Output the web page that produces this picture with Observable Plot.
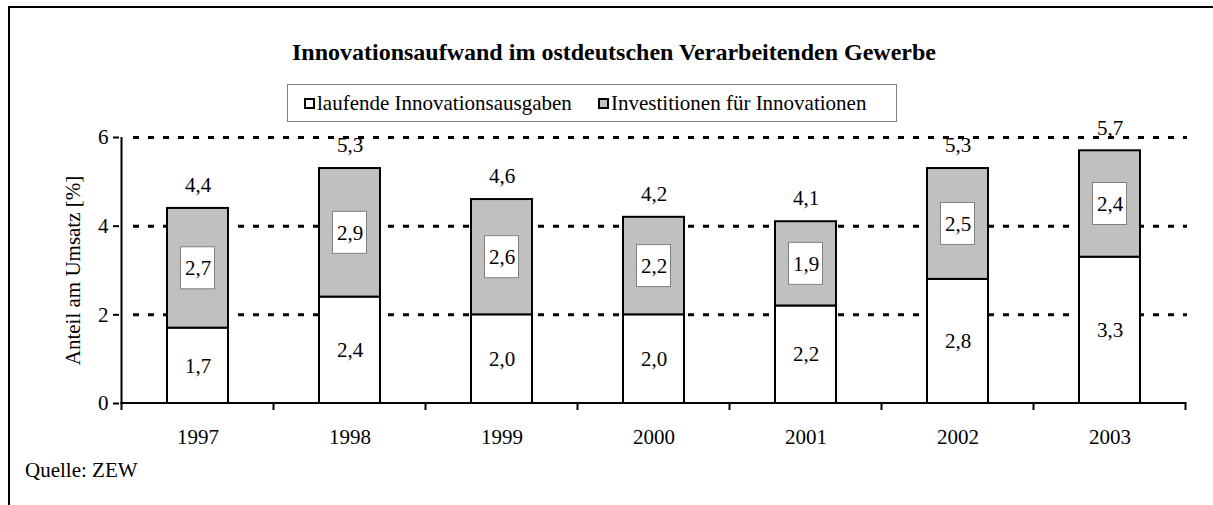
<!DOCTYPE html>
<html>
<head>
<meta charset="utf-8">
<script src="https://cdn.jsdelivr.net/npm/d3@7"></script>
<script src="https://cdn.jsdelivr.net/npm/@observablehq/plot@0.6"></script>
<style>
  html, body { margin: 0; padding: 0; background: #fff; }
  #wrap { position: relative; width: 1213px; height: 505px; overflow: hidden; background: #fff;
          font-family: "Liberation Serif", "Times New Roman", serif; color: #000; }
  #frame { position: absolute; left: 8px; top: 6px; width: 1300px; height: 600px;
           border-top: 2px solid #000; border-left: 2px solid #000; box-sizing: border-box; }
  #chart { position: absolute; left: 0; top: 0; }
  #title { position: absolute; left: 0; width: 1228px; top: 38px; text-align: center;
           font-family: "Liberation Serif", serif; font-weight: bold; font-size: 24px; line-height: 28px; }
  #legend { position: absolute; left: 287px; top: 84px; height: 38px; width: 610px; box-sizing: border-box;
            border: 1px solid #808080; font-family: "Liberation Serif", serif; font-size: 21px; }
  .item { position: absolute; top: 0; height: 36px; line-height: 36px; white-space: nowrap;
          font-family: "Liberation Serif", serif; font-size: 21px; }
  .sw { display: inline-block; width: 11px; height: 11px; border: 2px solid #000; box-sizing: border-box;
        vertical-align: middle; margin-right: 2px; position: relative; top: -2px; }
  #source { position: absolute; left: 25px; top: 458px; font-family: "Liberation Serif", serif; font-size: 21px; line-height: 24px; }
</style>
</head>
<body>
<div id="wrap">
  <div id="frame"></div>
  <div id="chart"></div>
  <div id="title"></div>
  <div id="legend"></div>
  <div id="source"></div>
</div>
<script>
const titleText = "Innovationsaufwand im ostdeutschen Verarbeitenden Gewerbe";
const yLabel = "Anteil am Umsatz [%]";
const sourceText = "Quelle: ZEW";
const years = ["1997", "1998", "1999", "2000", "2001", "2002", "2003"];
const laufende = [1.7, 2.4, 2.0, 2.0, 2.2, 2.8, 3.3];
const investitionen = [2.7, 2.9, 2.6, 2.2, 1.9, 2.5, 2.4];
const seriesNames = ["laufende Innovationsausgaben", "Investitionen für Innovationen"];
const seriesColors = ["#ffffff", "#c0c0c0"];
const yTicks = [0, 2, 4, 6];

const fmt = v => v.toFixed(1).replace(".", ",");

const rows = years.map((year, i) => ({
  year,
  low: laufende[i],
  inv: investitionen[i],
  total: laufende[i] + investitionen[i]
}));
const segments = rows.flatMap(r => [
  {year: r.year, series: seriesNames[0], y1: 0, y2: r.low},
  {year: r.year, series: seriesNames[1], y1: r.low, y2: r.total}
]);

function axesMark(index, scales, values, dimensions) {
  const ns = "http://www.w3.org/2000/svg";
  const g = document.createElementNS(ns, "g");
  const x = scales.x, y = scales.y;
  const step = x.step();
  const pad = (step - x.bandwidth()) / 2;
  const x0 = x(years[0]) - pad;
  const yb = y(0), yt = y(yTicks[yTicks.length - 1]);
  const line = (x1, y1, x2, y2) => {
    const l = document.createElementNS(ns, "line");
    l.setAttribute("x1", x1); l.setAttribute("y1", y1);
    l.setAttribute("x2", x2); l.setAttribute("y2", y2);
    l.setAttribute("stroke", "#000"); l.setAttribute("stroke-width", 2);
    g.appendChild(l);
  };
  line(x0, yt, x0, yb + 1);
  line(x0 - 1, yb, x0 + step * years.length + 1, yb);
  for (let i = 0; i <= years.length; i++) {
    const xi = x0 + step * i;
    line(xi, yb, xi, yb + 7);
  }
  return g;
}

const chart = Plot.plot({
  width: 1213,
  height: 460,
  marginTop: 137,
  marginBottom: 57,
  marginLeft: 119,
  marginRight: 25,
  style: {fontFamily: "'Liberation Serif', 'Times New Roman', serif", fontSize: "21px", color: "#000", background: "transparent"},
  x: {domain: years, paddingInner: 0.6, paddingOuter: 0.3, label: null},
  y: {domain: [0, 6], label: null},
  color: {domain: seriesNames, range: seriesColors},
  marks: [
    Plot.ruleY(yTicks.filter(t => t > 0), {y: d => d, stroke: "#000", strokeWidth: 3, strokeDasharray: "6 9", insetLeft: 14, insetRight: 1}),
    Plot.barY(segments, {x: "year", y1: "y1", y2: "y2", fill: "series", stroke: "#000", strokeWidth: 2}),
    Plot.barY(rows, {x: "year", y1: d => d.low + d.inv / 2, y2: d => d.low + d.inv / 2,
      fill: "#fff", stroke: "#808080", strokeWidth: 1,
      insetLeft: 13.5, insetRight: 13.5, insetTop: -21, insetBottom: -21}),
    Plot.text(rows, {x: "year", y: d => d.low + d.inv / 2, text: d => fmt(d.inv), fill: "#000"}),
    Plot.text(rows, {x: "year", y: d => d.low / 2, text: d => fmt(d.low), fill: "#000"}),
    Plot.text(rows, {x: "year", y: "total", text: d => fmt(d.total), dy: -23, fill: "#000"}),
    Plot.axisY({ticks: yTicks, tickFormat: d => String(d), tickSize: 6, tickPadding: 5, strokeWidth: 2, label: null, fill: "#000"}),
    Plot.axisX({tickSize: 0, tickPadding: 26, label: null, fill: "#000"}),
    Plot.text([yLabel], {frameAnchor: "left", rotate: -90, dx: -46, textAnchor: "middle", text: d => d, fill: "#000"}),
    axesMark
  ]
});
document.getElementById("chart").appendChild(chart);

document.getElementById("title").textContent = titleText;
document.getElementById("source").textContent = sourceText;

const legend = document.getElementById("legend");
const itemLefts = [16, 310];
seriesNames.forEach((name, i) => {
  const it = document.createElement("div");
  it.className = "item";
  it.style.left = itemLefts[i] + "px";
  const sw = document.createElement("span");
  sw.className = "sw";
  sw.style.background = seriesColors[i];
  it.appendChild(sw);
  it.appendChild(document.createTextNode(name));
  legend.appendChild(it);
});
</script>
</body>
</html>
